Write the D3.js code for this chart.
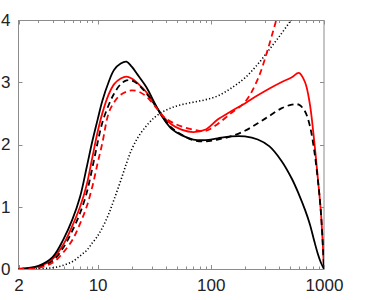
<!DOCTYPE html>
<html><head>
<meta charset="UTF-8">
<title>Curves on log axis</title>
<style>
  body { margin: 0; background: #fff; }
  svg text { font-family: "Liberation Sans", Arial, sans-serif; font-size: 17px; fill: #222; }
</style>
</head>
<body>
<svg id="chart" width="368" height="300"></svg>
<script src="https://d3js.org/d3.v7.min.js"></script>
<script>
  // shared x grid (log axis)
  const xGrid = [2, 3, 4, 5, 6, 7, 8, 9, 10, 11, 12.5, 14, 16, 18, 20, 23, 27, 32, 38, 45, 55, 70, 90,
                 115, 150, 200, 260, 330, 420, 520, 600, 680, 750, 820, 880, 940, 1000];

  const blackSolid = [0, 0.05, 0.19, 0.48, 0.8, 1.16, 1.63, 2.06, 2.4, 2.7, 3.0, 3.2, 3.3, 3.33, 3.25, 3.1,
                      2.92, 2.66, 2.42, 2.25, 2.15, 2.08, 2.07, 2.1, 2.13, 2.13, 2.08, 1.97, 1.74, 1.45,
                      1.2, 0.95, 0.72, 0.45, 0.25, 0.1, 0];
  const redSolid = [0, 0.04, 0.16, 0.4, 0.7, 1.0, 1.35, 1.8, 2.2, 2.5, 2.8, 2.97, 3.06, 3.09, 3.06, 2.97,
                    2.84, 2.64, 2.45, 2.32, 2.24, 2.2, 2.24, 2.4, 2.53, 2.66, 2.79, 2.9, 3.0, 3.08,
                    3.15, 3.0, 2.65, 2.05, 1.48, 0.9, 0];
  const blackDashed = [0, 0.03, 0.13, 0.35, 0.62, 0.9, 1.22, 1.63, 2.03, 2.35, 2.63, 2.82, 2.97, 3.03, 3.03,
                       2.96, 2.82, 2.64, 2.43, 2.27, 2.16, 2.07, 2.05, 2.08, 2.13, 2.22, 2.34, 2.46, 2.58,
                       2.64, 2.64, 2.53, 2.3, 1.9, 1.45, 0.9, 0];
  const redDashed = [0, 0.02, 0.1, 0.27, 0.47, 0.73, 1.0, 1.33, 1.7, 2.02, 2.5, 2.68, 2.8, 2.85, 2.87, 2.85,
                     2.77, 2.62, 2.45, 2.36, 2.29, 2.24, 2.22, 2.33, 2.5, 2.68, 3.05, 3.62, 4.3];
  const dotted = [0, 0.005, 0.02, 0.06, 0.12, 0.21, 0.3, 0.42, 0.53, 0.66, 0.88, 1.12, 1.42, 1.7, 1.92,
                  2.13, 2.3, 2.44, 2.53, 2.59, 2.64, 2.68, 2.72, 2.78, 2.9, 3.07, 3.29, 3.53, 3.78,
                  4.02, 4.2];

  const xTickLabels = [2, 10, 100, 1000];
  const xMinorTicks = [3, 4, 5, 6, 7, 8, 9, 20, 30, 40, 50, 60, 70, 80, 90, 200, 300, 400, 500, 600, 700, 800, 900];
  const yTickLabels = [0, 1, 2, 3, 4];

  const plotLeft = 18.5, plotRight = 324, plotTop = 20, plotBottom = 269;

  const svg = d3.select("#chart");
  const x = d3.scaleLog().domain([2, 1000]).range([plotLeft, plotRight]);
  const y = d3.scaleLinear().domain([0, 4]).range([plotBottom, plotTop]);

  svg.append("defs").append("clipPath").attr("id", "plotClip")
    .append("rect")
    .attr("x", plotLeft).attr("y", plotTop)
    .attr("width", plotRight - plotLeft).attr("height", plotBottom - plotTop);

  // frame
  const axisColor = "#8c8c8c";
  svg.append("rect")
    .attr("x", plotLeft).attr("y", plotTop + 0.5)
    .attr("width", plotRight - plotLeft).attr("height", plotBottom - plotTop)
    .attr("fill", "none")
    .attr("stroke", axisColor)
    .attr("stroke-width", 1);

  // ticks, pointing in, on all four sides
  const ticks = svg.append("g").attr("stroke", axisColor).attr("stroke-width", 1);
  const xAll = xTickLabels.map(v => ({ v, len: 4 })).concat(xMinorTicks.map(v => ({ v, len: 2.5 })));
  xAll.forEach(t => {
    const px = Math.round(x(t.v)) + 0.5;
    ticks.append("line").attr("x1", px).attr("x2", px).attr("y1", plotBottom).attr("y2", plotBottom - t.len);
    ticks.append("line").attr("x1", px).attr("x2", px).attr("y1", plotTop + 0.5).attr("y2", plotTop + 0.5 + t.len);
  });
  yTickLabels.forEach(v => {
    const py = Math.round(y(v)) + 0.5;
    ticks.append("line").attr("x1", plotLeft).attr("x2", plotLeft + 4).attr("y1", py).attr("y2", py);
    ticks.append("line").attr("x1", plotRight).attr("x2", plotRight - 4).attr("y1", py).attr("y2", py);
  });

  // tick labels through d3 axes
  const xAxis = svg.append("g")
    .attr("transform", `translate(0,${plotBottom})`)
    .call(d3.axisBottom(x).tickValues(xTickLabels).tickSize(0).tickPadding(10).tickFormat(d3.format("d")));
  xAxis.select(".domain").remove();
  xAxis.selectAll("text").style("font-size", "17px").style("font-family", "'Liberation Sans', Arial, sans-serif");

  const yAxis = svg.append("g")
    .attr("transform", `translate(${plotLeft},0)`)
    .call(d3.axisLeft(y).tickValues(yTickLabels).tickSize(0).tickPadding(8).tickFormat(d3.format("d")));
  yAxis.select(".domain").remove();
  yAxis.selectAll("text").style("font-size", "17px").style("font-family", "'Liberation Sans', Arial, sans-serif");

  // curves
  const line = d3.line()
    .x(d => x(d[0]))
    .y(d => y(d[1]))
    .curve(d3.curveCatmullRom.alpha(0.5));

  const series = [
    { vals: dotted, color: "#000", width: 1.6, dash: "1.2,2.2" },
    { vals: redSolid, color: "#ff0000", width: 1.8, dash: null },
    { vals: blackSolid, color: "#000", width: 1.8, dash: null },
    { vals: blackDashed, color: "#000", width: 1.8, dash: "6,4" },
    { vals: redDashed, color: "#ff0000", width: 1.8, dash: "6,4" }
  ];

  const plot = svg.append("g").attr("clip-path", "url(#plotClip)");
  series.forEach(s => {
    const pts = s.vals.map((v, i) => [xGrid[i], v]);
    plot.append("path")
      .attr("d", line(pts))
      .attr("fill", "none")
      .attr("stroke", s.color)
      .attr("stroke-width", s.width)
      .attr("stroke-dasharray", s.dash);
  });
</script>
</body></html>
